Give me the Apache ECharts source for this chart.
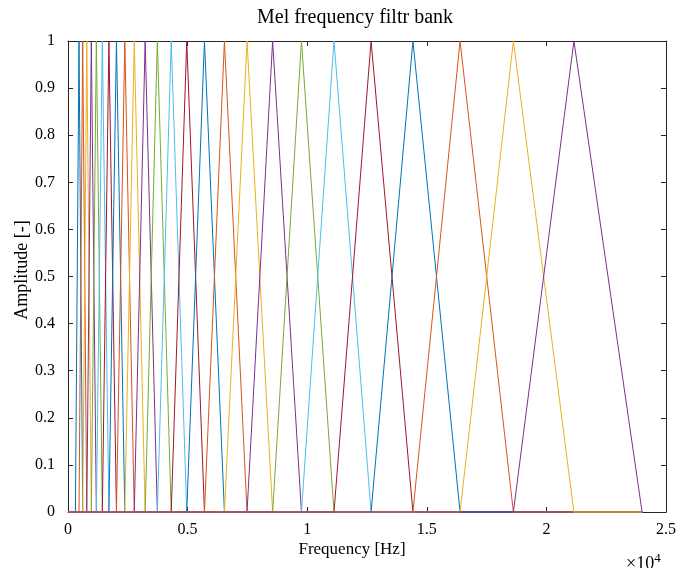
<!DOCTYPE html>
<html>
<head>
<meta charset="utf-8">
<script src="https://cdn.jsdelivr.net/npm/echarts@6/dist/echarts.min.js"></script>
<style>
  html, body { margin: 0; padding: 0; background: #fff; }
  #chart { width: 679px; height: 568px; }
</style>
</head>
<body>
<div id="chart"></div>
<script>
// Triangular mel filter bank: edge frequencies (Hz) of the filters.
// Filter i rises from edgesHz[i] to a peak at edgesHz[i+1] and falls to edgesHz[i+2].
const edgesHz = [310, 460, 615, 785, 975, 1185, 1435, 1710, 2025, 2375, 2770, 3225,
                 3735, 4315, 4965, 5705, 6540, 7485, 8555, 9760, 11120, 12670,
                 14420, 16390, 18620, 21150, 24000];
const peakAmplitude = 1;
const freqStartHz = 0;
const freqEndHz = 24000;

// Axis ticks
const xTicksHz = [0, 5000, 10000, 15000, 20000, 25000];
const yTicks = [0, 0.1, 0.2, 0.3, 0.4, 0.5, 0.6, 0.7, 0.8, 0.9, 1];

// Default line colour order
const palette = ['#0072BD', '#D95319', '#EDB120', '#7E2F8E', '#77AC30', '#4DBEEE', '#A2142F'];

const serif = '"Liberation Serif", "DejaVu Serif", serif';
const axisColor = '#262626';

const series = [];
for (let i = 0; i + 2 < edgesHz.length; i++) {
  series.push({
    type: 'line',
    name: 'Filter ' + (i + 1),
    showSymbol: false,
    symbol: 'none',
    color: palette[i % palette.length],
    lineStyle: { width: 1 },
    clip: false,
    data: [
      [freqStartHz, 0],
      [edgesHz[i], 0],
      [edgesHz[i + 1], peakAmplitude],
      [edgesHz[i + 2], 0],
      [freqEndHz, 0]
    ]
  });
}

function valueAxis(extra) {
  return Object.assign({
    type: 'value',
    splitLine: { show: false },
    axisLine: { show: true, onZero: false, lineStyle: { color: axisColor, width: 1 } },
    axisTick: { show: true, inside: true, length: 5, lineStyle: { color: axisColor, width: 1 } },
    axisLabel: { show: false }
  }, extra);
}

const xMin = xTicksHz[0], xMax = xTicksHz[xTicksHz.length - 1];
const xStep = xTicksHz[1] - xTicksHz[0];
const yMin = yTicks[0], yMax = yTicks[yTicks.length - 1];
const yStep = 0.1;

const chart = echarts.init(document.getElementById('chart'), null, { renderer: 'canvas' });
chart.setOption({
  animation: false,
  backgroundColor: '#fff',
  grid: { left: 68, right: 11, top: 41, bottom: 56 },
  xAxis: [
    valueAxis({
      position: 'bottom', min: xMin, max: xMax, interval: xStep,
      axisLabel: {
        show: true, margin: 10, color: '#000', fontFamily: serif, fontSize: 16,
        formatter: v => String(v / 10000)
      }
    }),
    valueAxis({ position: 'top', min: xMin, max: xMax, interval: xStep })
  ],
  yAxis: [
    valueAxis({
      position: 'left', min: yMin, max: yMax, interval: yStep,
      axisLabel: {
        show: true, margin: 13, color: '#000', fontFamily: serif, fontSize: 16,
        formatter: v => String(Math.round(v * 10) / 10)
      }
    }),
    valueAxis({ position: 'right', min: yMin, max: yMax, interval: yStep })
  ],
  series: series,
  graphic: [
    {
      type: 'text', x: 355, y: 18,
      style: { text: 'Mel frequency filtr bank', font: '20px ' + serif, fill: '#000', align: 'center', verticalAlign: 'middle' }
    },
    {
      type: 'text', x: 352, y: 550,
      style: { text: 'Frequency [Hz]', font: '17px ' + serif, fill: '#000', align: 'center', verticalAlign: 'middle' }
    },
    {
      type: 'text', x: 22, y: 270, rotation: Math.PI / 2,
      style: { text: 'Amplitude [-]', font: '18px ' + serif, fill: '#000', align: 'center', verticalAlign: 'middle' }
    },
    {
      type: 'text', x: 626, y: 552,
      style: {
        text: '×10{sup|4}', font: '18px ' + serif, fill: '#000',
        rich: { sup: { fontSize: 13, fontFamily: serif, verticalAlign: 'top', padding: [0, 0, 12, 0] } }
      }
    }
  ]
});
</script>
</body>
</html>
